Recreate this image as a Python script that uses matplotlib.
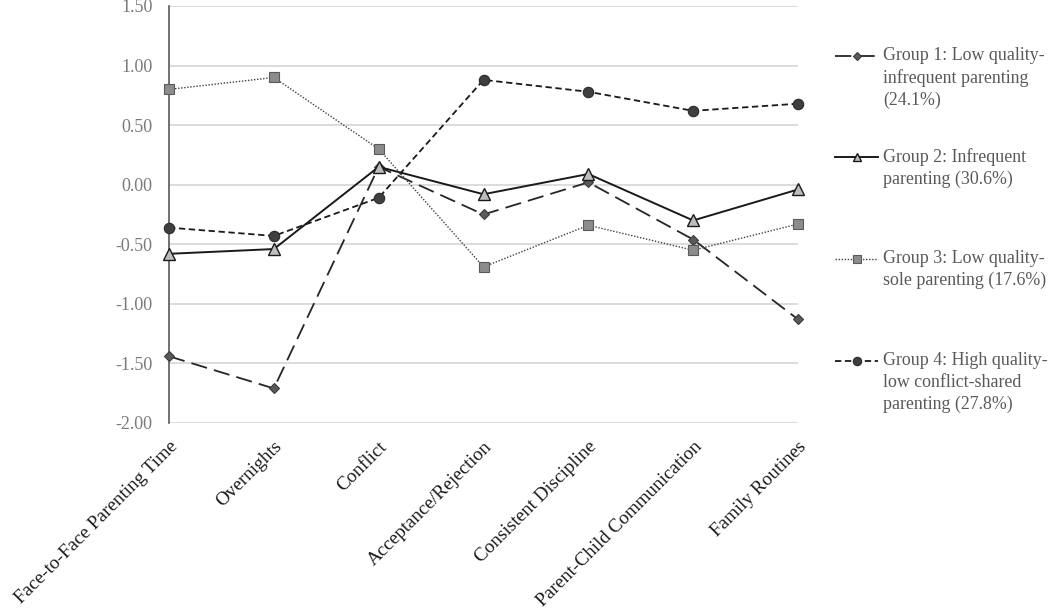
import matplotlib.pyplot as plt
from matplotlib.lines import Line2D

plt.rcParams['font.family'] = ['Liberation Serif', 'DejaVu Serif']

# data
categories = ['Face-to-Face Parenting Time', 'Overnights', 'Conflict',
              'Acceptance/Rejection', 'Consistent Discipline',
              'Parent-Child Communication', 'Family Routines']
group1 = [-1.44, -1.71, 0.15, -0.25, 0.02, -0.46, -1.13]
group2 = [-0.58, -0.54, 0.15, -0.08, 0.09, -0.30, -0.04]
group3 = [0.80, 0.90, 0.30, -0.69, -0.34, -0.55, -0.33]
group4 = [-0.36, -0.43, -0.11, 0.88, 0.78, 0.62, 0.68]
labels = ['Group 1: Low quality-\ninfrequent parenting\n(24.1%)',
          'Group 2: Infrequent\nparenting (30.6%)',
          'Group 3: Low quality-\nsole parenting (17.6%)',
          'Group 4: High quality-\nlow conflict-shared\nparenting (27.8%)']
yticks = [1.5, 1.0, 0.5, 0.0, -0.5, -1.0, -1.5, -2.0]

styles = [
    dict(color='#262626', lw=1.3, dashes=(9, 4), marker='D', ms=5.5,
         mfc='#5a5a5a', mec='#3a3a3a', mew=0.8),
    dict(color='#1a1a1a', lw=1.4, ls='-', marker='^', ms=8,
         mfc='#bdbdbd', mec='#1a1a1a', mew=1.0),
    dict(color='#404040', lw=1.0, ls=(0, (1, 1.2)), marker='s', ms=7.5,
         mfc='#8c8c8c', mec='#5a5a5a', mew=0.8),
    dict(color='#1a1a1a', lw=1.3, dashes=(3.5, 2), marker='o', ms=7.5,
         mfc='#3f3f3f', mec='#2a2a2a', mew=0.8),
]

fig = plt.figure(figsize=(10.5, 6.14), dpi=100)
ax = fig.add_axes([169 / 1050, 1 - 423 / 614, (798 - 169) / 1050, (423 - 6) / 614])

x = list(range(len(categories)))
for vals, st in zip([group1, group2, group3, group4], styles):
    ax.plot(x, vals, clip_on=False, zorder=3, **st)

ax.set_xlim(0, len(categories) - 1)
ax.set_ylim(-2.0, 1.5)
ax.set_yticks(yticks)
ax.set_yticklabels([f'{v:.2f}' for v in yticks], color='#7a7a7a', fontsize=13)
ax.yaxis.grid(True, color='#d9d9d9', lw=1.3)
ax.set_axisbelow(True)
ax.tick_params(axis='y', length=0, pad=12)
ax.tick_params(axis='x', length=0, pad=11)
ax.set_xticks(x)
ax.set_xticklabels(categories, rotation=45, ha='right', rotation_mode='anchor',
                   fontsize=13.8, color='#1a1a1a')
for s in ['top', 'right', 'bottom']:
    ax.spines[s].set_visible(False)
ax.spines['left'].set_color('#595959')
ax.spines['left'].set_linewidth(1.2)

# legend drawn by hand so each marker sits on the first text line
leg_y = [56, 157, 259, 361]
for st, lab, yp in zip(styles, labels, leg_y):
    yf = 1 - yp / 614
    kw = dict(st)
    kw.pop('marker'); ms = kw.pop('ms'); mfc = kw.pop('mfc'); mec = kw.pop('mec'); mew = kw.pop('mew')
    fig.add_artist(Line2D([835 / 1050, 878 / 1050], [yf, yf], transform=fig.transFigure, **kw))
    fig.add_artist(Line2D([856.5 / 1050], [yf], transform=fig.transFigure, ls='none',
                          marker=st['marker'], ms=ms * 0.8, mfc=mfc, mec=mec, mew=mew))
    fig.text(883 / 1050, yf + 9 / 614, lab, fontsize=12.9, color='#595959', va='top',
             ha='left', linespacing=1.38, transform=fig.transFigure)

fig.savefig('out.png', dpi=100)
